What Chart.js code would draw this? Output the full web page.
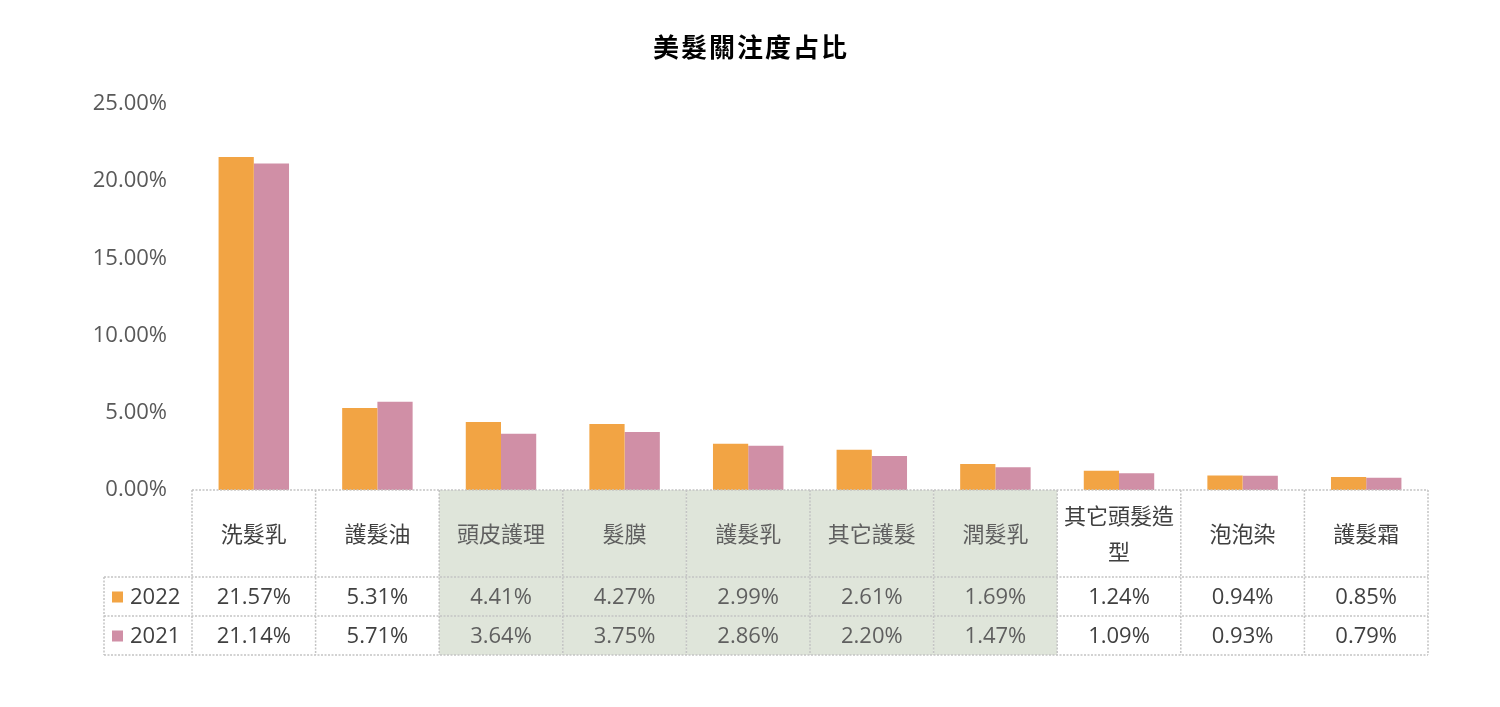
<!DOCTYPE html>
<html>
<head>
<meta charset="utf-8">
<script src="https://cdn.jsdelivr.net/npm/chart.js@4.4.1/dist/chart.umd.min.js"></script>
<style>
  html, body { margin: 0; padding: 0; background: #fff; }
  #wrap { width: 1500px; height: 707px; }
</style>
</head>
<body>
<div id="wrap"><canvas id="hairChart" width="1500" height="707"></canvas></div>
<script>
'use strict';

// ---- Data ----
const categories = ['洗髮乳', '護髮油', '頭皮護理', '髮膜', '護髮乳', '其它護髮', '潤髮乳', '其它頭髮造型', '泡泡染', '護髮霜'];
const values2022 = [21.57, 5.31, 4.41, 4.27, 2.99, 2.61, 1.69, 1.24, 0.94, 0.85];
const values2021 = [21.14, 5.71, 3.64, 3.75, 2.86, 2.20, 1.47, 1.09, 0.93, 0.79];
const seriesLabels = ['2022', '2021'];
const shadedColumns = [2, 3, 4, 5, 6];
const yTicks = [0, 5, 10, 15, 20, 25];
const chartTitle = '美髮關注度占比';

const COLORS = { y2022: '#F2A444', y2021: '#D08FA6', shade: '#DFE5DA', border: '#C4C4C4' };
const FONT = "'Open Sans', 'Noto Sans CJK TC', sans-serif";
const CJK = "'Noto Sans CJK TC', sans-serif";

// ---- Title centred on the whole canvas ----
const pageTitle = {
  id: 'pageTitle',
  afterDraw(chart) {
    const { ctx, width } = chart;
    ctx.save();
    ctx.font = 'bold 26px ' + CJK;
    ctx.letterSpacing = '2px';
    ctx.fillStyle = '#000';
    ctx.textAlign = 'center';
    ctx.textBaseline = 'middle';
    ctx.fillText(chartTitle, width / 2 + 1, 47);
    ctx.restore();
  },
};

// ---- Data table under the plot ----
const dataTable = {
  id: 'dataTable',
  afterDraw(chart) {
    const { ctx, chartArea, scales } = chart;
    const xs = scales.x;
    const colW = (chartArea.right - chartArea.left) / categories.length;
    const top = chartArea.bottom;
    const headH = 87, rowH = 39;
    const legendLeft = 104;
    const rows = [values2022, values2021];
    const rowColors = [COLORS.y2022, COLORS.y2021];

    ctx.save();
    // shaded cells
    ctx.fillStyle = COLORS.shade;
    shadedColumns.forEach(i => {
      const cx = xs.getPixelForValue(i);
      ctx.fillRect(cx - colW / 2, top, colW, headH + rowH * 2);
    });

    // grid lines
    ctx.strokeStyle = COLORS.border;
    ctx.lineWidth = 1.5;
    ctx.setLineDash([2, 1.5]);
    const line = (x1, y1, x2, y2) => { ctx.beginPath(); ctx.moveTo(x1, y1); ctx.lineTo(x2, y2); ctx.stroke(); };
    line(chartArea.left, top, chartArea.right, top);
    line(legendLeft, top + headH, chartArea.right, top + headH);
    line(legendLeft, top + headH + rowH, chartArea.right, top + headH + rowH);
    line(legendLeft, top + headH + rowH * 2, chartArea.right, top + headH + rowH * 2);
    for (let i = 0; i <= categories.length; i++) {
      const x = chartArea.left + i * colW;
      line(x, top, x, top + headH + rowH * 2);
    }
    line(legendLeft, top + headH, legendLeft, top + headH + rowH * 2);
    ctx.setLineDash([]);

    // header labels, wrapped to the column width
    ctx.textAlign = 'center';
    ctx.textBaseline = 'middle';
    ctx.font = '22px ' + CJK;
    categories.forEach((label, i) => {
      const cx = xs.getPixelForValue(i);
      const lines = [];
      let cur = '';
      for (const ch of label) {
        if (ctx.measureText(cur + ch).width > colW - 8 && cur) { lines.push(cur); cur = ch; }
        else cur += ch;
      }
      lines.push(cur);
      const lh = 36;
      const y0 = top + headH / 2 - (lines.length - 1) * lh / 2;
      ctx.fillStyle = shadedColumns.includes(i) ? '#5f5f5f' : '#404040';
      lines.forEach((t, k) => ctx.fillText(t, cx, y0 + k * lh));
    });

    // value rows
    ctx.font = '22px ' + FONT;
    rows.forEach((vals, r) => {
      const cy = top + headH + rowH * r + rowH / 2 + 1;
      vals.forEach((v, i) => {
        ctx.fillStyle = shadedColumns.includes(i) ? '#5f5f5f' : '#404040';
        ctx.fillText(v.toFixed(2) + '%', xs.getPixelForValue(i), cy);
      });
      ctx.fillStyle = rowColors[r];
      ctx.fillRect(112, cy - 6, 11, 11);
      ctx.fillStyle = '#404040';
      ctx.textAlign = 'left';
      ctx.fillText(seriesLabels[r], 130, cy);
      ctx.textAlign = 'center';
    });
    ctx.restore();
  },
};

const chart = new Chart(document.getElementById('hairChart'), {
  type: 'bar',
  data: {
    labels: categories,
    datasets: [
      { label: seriesLabels[0], data: values2022, backgroundColor: COLORS.y2022 },
      { label: seriesLabels[1], data: values2021, backgroundColor: COLORS.y2021 },
    ],
  },
  options: {
    responsive: false,
    animation: false,
    devicePixelRatio: 1,
    categoryPercentage: 0.57,
    barPercentage: 1.0,
    layout: { padding: { left: 0, right: 72, bottom: 217, top: 104 } },
    plugins: {
      legend: { display: false },
      tooltip: { enabled: false },
      title: { display: false },
    },
    scales: {
      x: { display: false },
      y: {
        min: 0,
        max: 25,
        afterFit: s => { s.width = 192; },
        afterBuildTicks: s => { s.ticks = yTicks.map(v => ({ value: v })); },
        border: { display: false },
        grid: { display: false, drawTicks: false },
        ticks: {
          padding: 25,
          color: '#595959',
          font: { size: 22, family: FONT },
          callback: v => v.toFixed(2) + '%',
        },
      },
    },
  },
  plugins: [dataTable, pageTitle],
});
</script>
</body>
</html>
